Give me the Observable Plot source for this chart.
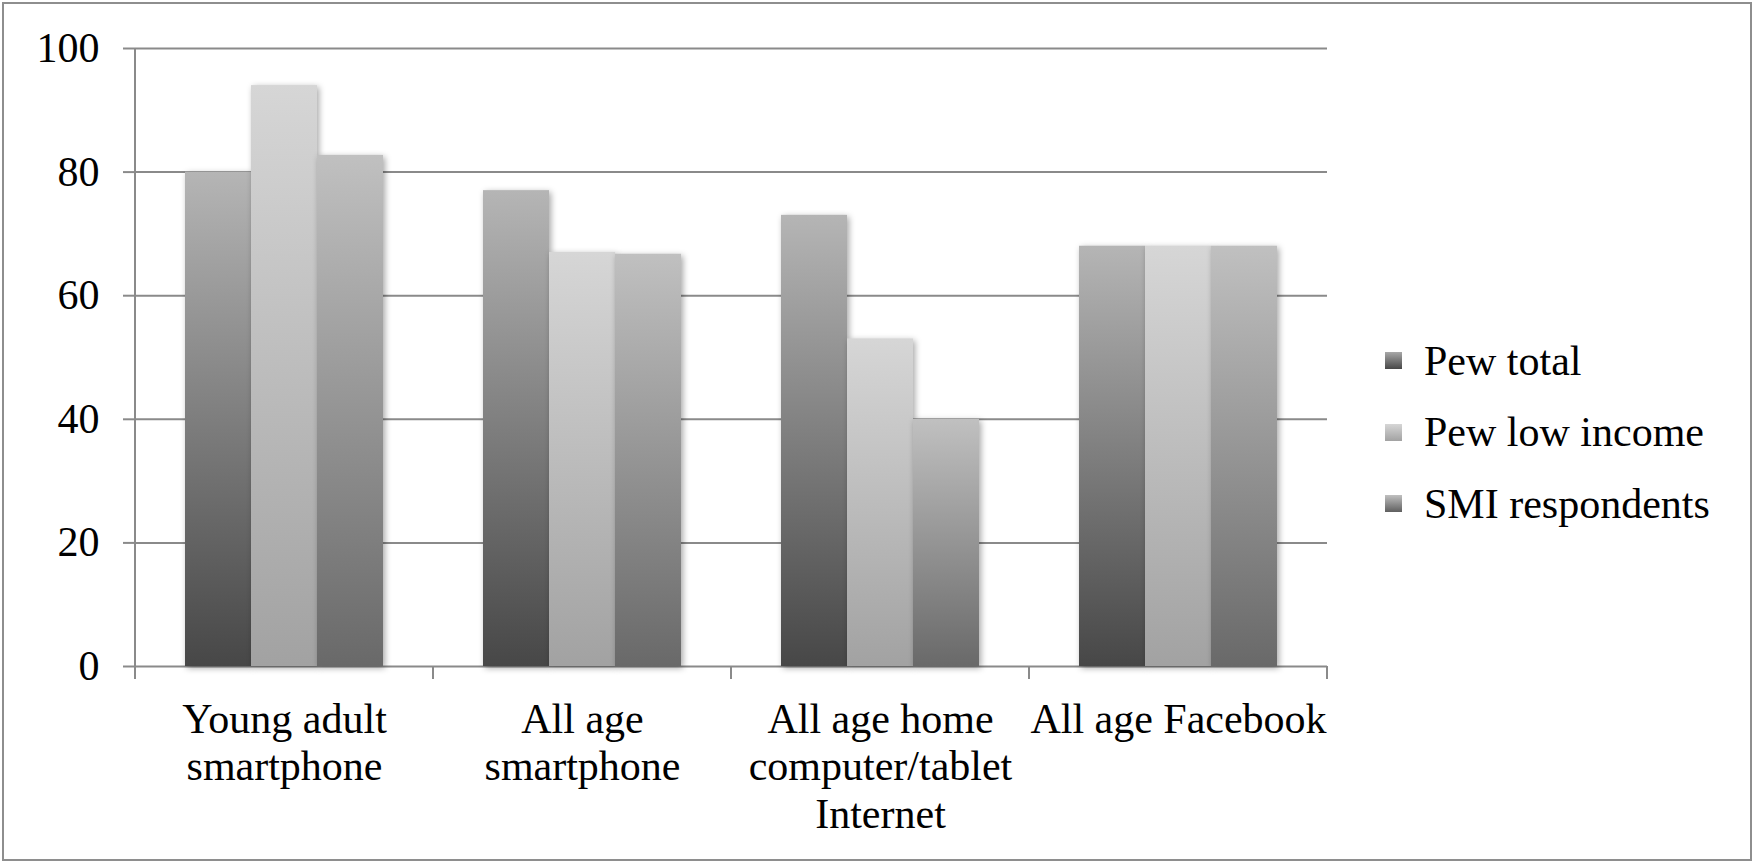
<!DOCTYPE html>
<html><head><meta charset="utf-8">
<script src="https://cdn.jsdelivr.net/npm/d3@7"></script>
<script src="https://cdn.jsdelivr.net/npm/@observablehq/plot@0.6"></script>
<style>
body{margin:0;background:#fff;font-family:"Liberation Serif",serif;}
#wrap{position:relative;width:1759px;height:865px;overflow:hidden;background:#fff}
#frame{position:absolute;left:2px;top:2px;width:1750px;height:859px;border:2px solid #8e8e8e;box-sizing:border-box;}
#chart{position:absolute;left:0;top:0}
#legend{position:absolute;left:1385px;top:325px;font-size:42px;color:#000;font-family:"Liberation Serif",serif}
.item{display:flex;align-items:center;height:71.5px;white-space:nowrap}
.sw{width:17px;height:17px;margin-right:22px;flex:none}
#chart g[aria-label="bar"] rect{filter:drop-shadow(2px 2px 3px rgba(0,0,0,0.35))}
</style></head>
<body>
<svg width="0" height="0" style="position:absolute">
<defs>
<linearGradient id="g0" x1="0" y1="0" x2="0" y2="1"><stop offset="0" stop-color="#b5b5b5"/><stop offset="1" stop-color="#474747"/></linearGradient>
<linearGradient id="g1" x1="0" y1="0" x2="0" y2="1"><stop offset="0" stop-color="#d6d6d6"/><stop offset="1" stop-color="#a2a2a2"/></linearGradient>
<linearGradient id="g2" x1="0" y1="0" x2="0" y2="1"><stop offset="0" stop-color="#c0c0c0"/><stop offset="1" stop-color="#696969"/></linearGradient>
</defs></svg>
<div id="wrap"><div id="frame"></div><div id="chart"></div><div id="legend"></div></div>
<script>
const categories = ["Young adult\nsmartphone", "All age\nsmartphone", "All age home\ncomputer/tablet\nInternet", "All age Facebook"];
const series = ["Pew total", "Pew low income", "SMI respondents"];
const pewTotal = [80, 77, 73, 68];
const pewLowIncome = [94, 67, 53, 68];
const smiRespondents = [82.7, 66.7, 40, 68];
const yTicks = [0, 20, 40, 60, 80, 100];

const fills = ["url(#g0)", "url(#g1)", "url(#g2)"];
const cssFills = ["linear-gradient(#a8a8a8,#474747)", "linear-gradient(#d6d6d6,#a2a2a2)", "linear-gradient(#c0c0c0,#5f5f5f)"];
const valuesBySeries = [pewTotal, pewLowIncome, smiRespondents];
const rows = categories.flatMap((c, i) => series.map((s, j) => ({category: c, series: s, value: valuesBySeries[j][i]})));

const gray = "#8a8a8a";
const chart = Plot.plot({
  width: 1360, height: 865,
  marginLeft: 134, marginRight: 32, marginTop: 48, marginBottom: 199,
  style: {fontFamily: '"Liberation Serif", serif', fontSize: "42px", color: "#000", background: "transparent", overflow: "visible"},
  fx: {domain: categories, padding: 0, label: null},
  x: {domain: series, paddingInner: 0, paddingOuter: 0.74, axis: null},
  y: {domain: [0, 100], axis: null},
  color: {type: "ordinal", domain: series, range: fills},
  marks: [
    Plot.gridY(yTicks, {stroke: gray, strokeOpacity: 1, strokeWidth: 2}),
    Plot.barY(rows, {fx: "category", x: "series", y: "value", fill: "series"}),
    Plot.axisY(yTicks, {tickSize: 12, tickPadding: 24, stroke: gray, strokeWidth: 2, strokeOpacity: 1, label: null, fontSize: 42}),
    Plot.axisFx({anchor: "bottom", tickSize: 0, tickPadding: 32, label: null, lineHeight: 1.14, fontSize: 42})
  ]
});
document.getElementById("chart").appendChild(chart);

// category boundary ticks and vertical axis line, placed with the plot's own scales
const fx = chart.scale("fx"), y = chart.scale("y");
const sel = d3.select(chart);
const bounds = categories.map(c => fx.apply(c)).concat([fx.apply(categories[categories.length - 1]) + fx.bandwidth]);
const y0 = y.apply(0), y100 = y.apply(100);
const g = sel.append("g").attr("stroke", gray).attr("stroke-width", 2);
g.append("line").attr("x1", bounds[0]).attr("x2", bounds[0]).attr("y1", y100).attr("y2", y0 + 13);
bounds.forEach(b => g.append("line").attr("x1", b).attr("x2", b).attr("y1", y0).attr("y2", y0 + 13));

const legend = d3.select("#legend");
series.forEach((s, i) => {
  const it = legend.append("div").attr("class", "item");
  it.append("div").attr("class", "sw").style("background", cssFills[i]);
  it.append("span").text(s);
});
</script>
</body></html>
